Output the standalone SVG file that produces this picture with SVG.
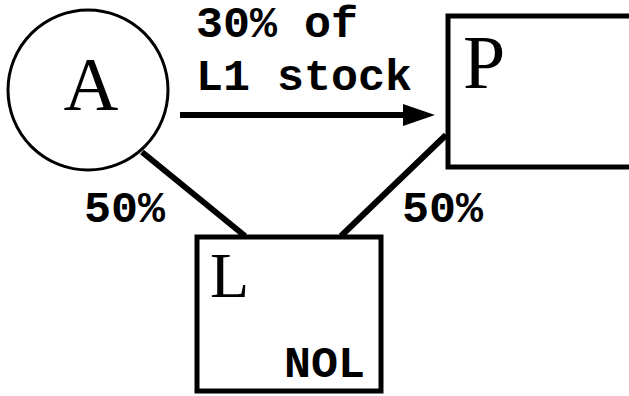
<svg xmlns="http://www.w3.org/2000/svg" width="629" height="396" viewBox="0 0 629 396">
<style>
.node{fill:#fff;stroke:#000;}
.big{font-family:"Liberation Serif","Times New Roman",serif;fill:#000;}
.lbl{font-family:"Liberation Mono","Courier New",monospace;font-weight:bold;font-size:45px;fill:#000;}
.conn{stroke:#000;stroke-width:6;fill:none;}
</style>
<defs>
<marker id="ah" markerUnits="userSpaceOnUse" markerWidth="32" markerHeight="24" refX="2" refY="12" orient="auto">
<path d="M0,1 L32,12 L0,23 Z" fill="#000"/>
</marker>
</defs>
<rect width="629" height="396" fill="#fff"/>
<g id="connectors">
<line class="conn" x1="142" y1="152" x2="245" y2="236"/>
<line class="conn" x1="446" y1="135" x2="341" y2="236"/>
<line class="conn" x1="180" y1="115" x2="405" y2="115" stroke-width="5" marker-end="url(#ah)"/>
</g>
<g id="A">
<circle class="node" cx="88" cy="90" r="80" stroke-width="3"/>
<text class="big" x="91" y="110" font-size="76" text-anchor="middle">A</text>
</g>
<g id="P">
<rect class="node" x="448" y="16" width="200" height="151" stroke-width="5"/>
<text class="big" x="463" y="88" font-size="76">P</text>
</g>
<g id="L">
<rect class="node" x="197" y="237" width="184" height="154" stroke-width="5"/>
<text class="big" x="210" y="297" font-size="64">L</text>
<text class="lbl" x="284" y="377">NOL</text>
</g>
<g id="labels">
<text class="lbl" x="196" y="37">30% of</text>
<text class="lbl" x="196" y="90">L1 stock</text>
<text class="lbl" x="84" y="222">50%</text>
<text class="lbl" x="402" y="222">50%</text>
</g>
</svg>
